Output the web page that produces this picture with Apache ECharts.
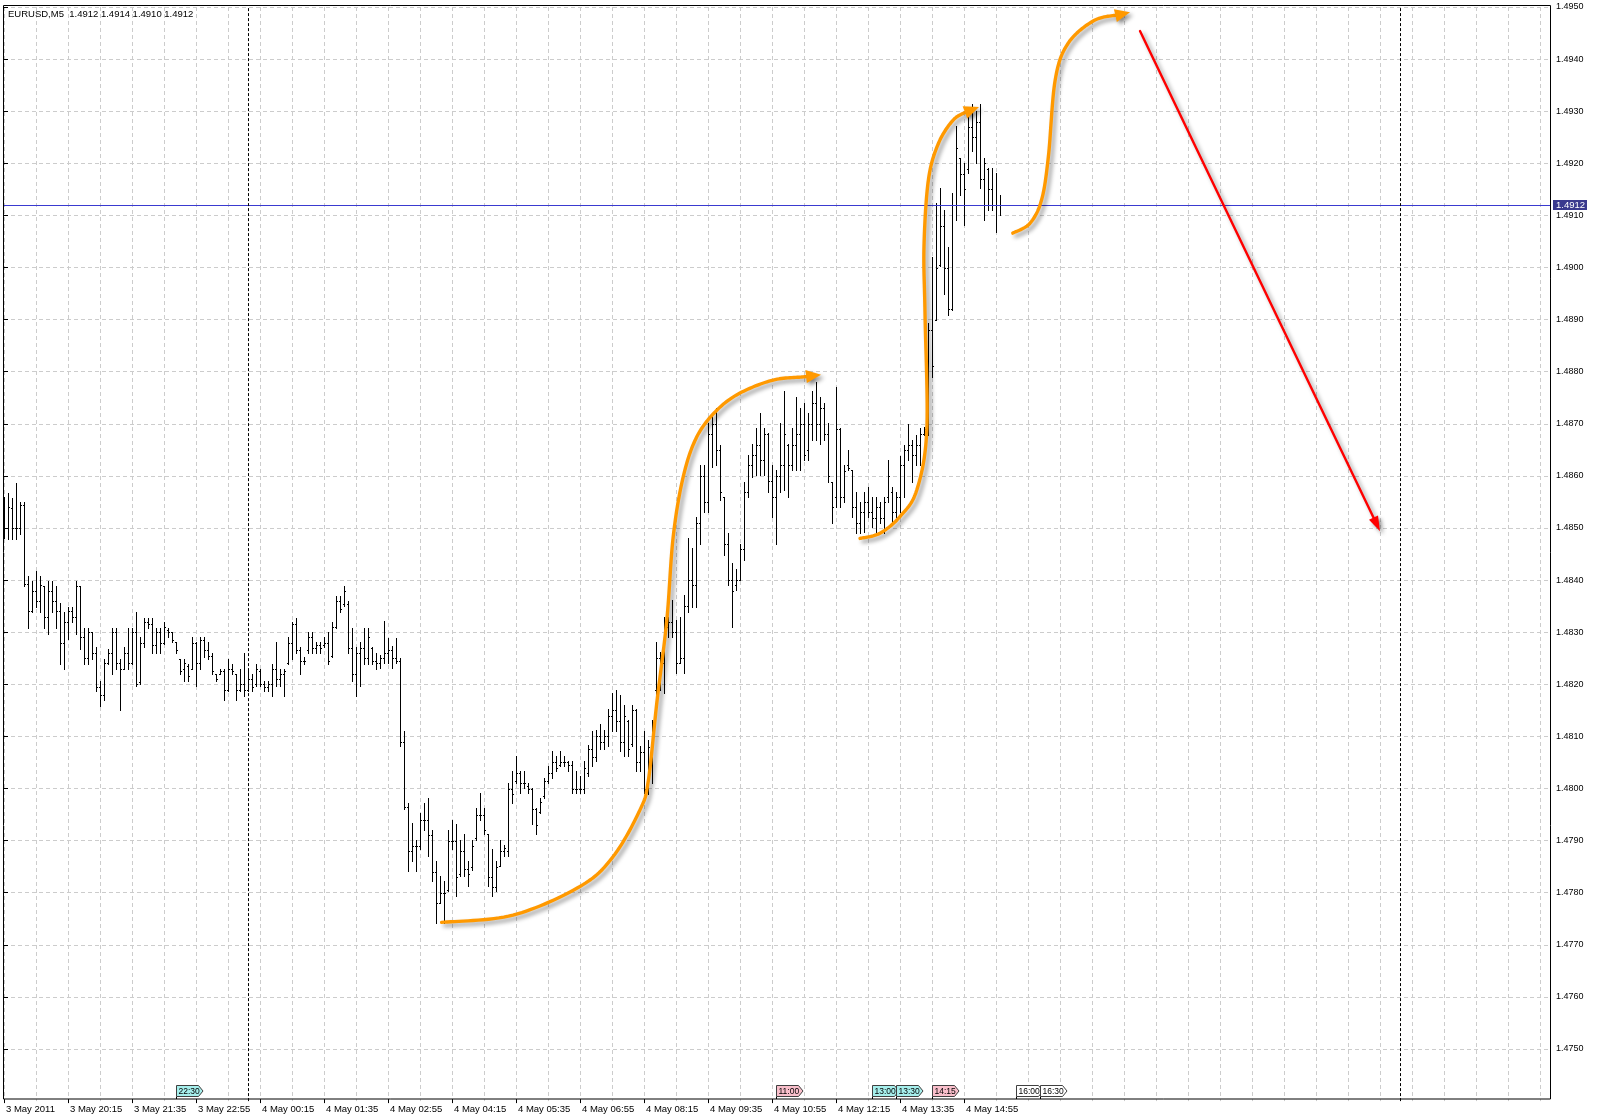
<!DOCTYPE html>
<html><head><meta charset="utf-8">
<script src="https://cdn.jsdelivr.net/npm/echarts@6/dist/echarts.min.js"></script>
<style>html,body{margin:0;padding:0;background:#fff}#c{width:1600px;height:1120px}</style>
</head><body><div id="c"></div>
<script>
// ---------- data ----------
const titleText = 'EURUSD,M5  1.4912 1.4914 1.4910 1.4912';
const lastPrice = 1.4912;
const slotCount = 387;               // bars + empty future slots
const timeLabels = ['3 May 2011','3 May 20:15','3 May 21:35','3 May 22:55','4 May 00:15','4 May 01:35','4 May 02:55','4 May 04:15','4 May 05:35','4 May 06:55','4 May 08:15','4 May 09:35','4 May 10:55','4 May 12:15','4 May 13:35','4 May 14:55'];
const daySeparators = [61, 349];     // 4 May 00:00, 5 May 00:00
const flagIdx = [43, 193, 217, 223, 232, 253, 259];
const flagText = ['22:30','11:00','13:00','13:30','14:15','16:00','16:30'];
const flagKind = ['low','high','low','low','high','none','none'];

const opens = [
1.48540,1.48500,1.48539,1.48500,1.48500,1.48545,1.48392,1.48340,1.48380,1.48360,
1.48389,1.48330,1.48380,1.48360,1.48340,1.48280,1.48320,1.48340,1.48330,1.48389,
1.48290,1.48250,1.48300,1.48260,1.48195,1.48180,1.48240,1.48260,1.48300,1.48240,
1.48229,1.48260,1.48240,1.48300,1.48205,1.48280,1.48320,1.48315,1.48275,1.48300,
1.48280,1.48305,1.48300,1.48281,1.48249,1.48230,1.48235,1.48230,1.48280,1.48240,
1.48285,1.48265,1.48255,1.48220,1.48220,1.48225,1.48190,1.48230,1.48220,1.48190,
1.48200,1.48190,1.48210,1.48200,1.48225,1.48200,1.48195,1.48200,1.48230,1.48210,
1.48220,1.48240,1.48280,1.48315,1.48265,1.48245,1.48265,1.48290,1.48270,1.48275,
1.48275,1.48280,1.48255,1.48310,1.48360,1.48355,1.48355,1.48270,1.48220,1.48260,
1.48270,1.48250,1.48270,1.48245,1.48240,1.48251,1.48260,1.48265,1.48250,1.48245,
1.48090,1.47965,1.47880,1.47890,1.47890,1.47940,1.47940,1.47910,1.47840,1.47780,
1.47800,1.47805,1.47900,1.47900,1.47835,1.47880,1.47845,1.47850,1.47905,1.47950,
1.47950,1.47912,1.47830,1.47810,1.47851,1.47880,1.47880,1.48000,1.48015,1.48030,
1.48010,1.48005,1.48000,1.47960,1.47955,1.47985,1.48015,1.48030,1.48050,1.48045,
1.48050,1.48050,1.48045,1.48000,1.48000,1.48000,1.48030,1.48075,1.48060,1.48100,
1.48090,1.48100,1.48140,1.48150,1.48130,1.48090,1.48130,1.48085,1.48150,1.48050,
1.48070,1.48000,1.48080,1.48190,1.48250,1.48240,1.48310,1.48320,1.48300,1.48240,
1.48250,1.48350,1.48400,1.48390,1.48510,1.48600,1.48550,1.48680,1.48700,1.48650,
1.48560,1.48470,1.48400,1.48390,1.48400,1.48460,1.48570,1.48620,1.48640,1.48660,
1.48630,1.48680,1.48590,1.48560,1.48600,1.48620,1.48660,1.48620,1.48660,1.48680,
1.48700,1.48650,1.48700,1.48740,1.48700,1.48730,1.48680,1.48589,1.48560,1.48690,
1.48560,1.48620,1.48611,1.48540,1.48510,1.48530,1.48550,1.48530,1.48520,1.48540,
1.48520,1.48560,1.48570,1.48530,1.48560,1.48620,1.48650,1.48660,1.48640,1.48660,
1.48680,1.48690,1.48880,1.48900,1.49005,1.49080,1.49000,1.48920,1.49120,1.49210,
1.49180,1.49190,1.49270,1.49250,1.49280,1.49170,1.49190,1.49150,1.49120,1.49120];

const highs = [
1.48560,1.48568,1.48558,1.48587,1.48549,1.48549,1.48408,1.48399,1.48418,1.48408,
1.48389,1.48399,1.48399,1.48389,1.48357,1.48338,1.48348,1.48348,1.48399,1.48389,
1.48309,1.48309,1.48300,1.48271,1.48207,1.48249,1.48268,1.48309,1.48309,1.48249,
1.48271,1.48309,1.48309,1.48338,1.48290,1.48328,1.48328,1.48328,1.48309,1.48309,
1.48319,1.48309,1.48300,1.48281,1.48249,1.48249,1.48239,1.48290,1.48281,1.48290,
1.48290,1.48281,1.48261,1.48220,1.48229,1.48229,1.48249,1.48239,1.48220,1.48229,
1.48261,1.48229,1.48220,1.48239,1.48229,1.48207,1.48207,1.48239,1.48281,1.48229,
1.48229,1.48290,1.48319,1.48328,1.48271,1.48252,1.48300,1.48300,1.48281,1.48281,
1.48290,1.48300,1.48319,1.48370,1.48370,1.48389,1.48360,1.48309,1.48271,1.48281,
1.48309,1.48309,1.48271,1.48261,1.48257,1.48321,1.48289,1.48273,1.48289,1.48251,
1.48110,1.47972,1.47934,1.47902,1.47953,1.47972,1.47982,1.47921,1.47860,1.47832,
1.47822,1.47921,1.47940,1.47931,1.47902,1.47912,1.47860,1.47902,1.47963,1.47992,
1.47963,1.47912,1.47883,1.47860,1.47902,1.47892,1.48011,1.48033,1.48062,1.48033,
1.48033,1.48011,1.48001,1.47963,1.47982,1.48020,1.48043,1.48072,1.48062,1.48072,
1.48062,1.48052,1.48052,1.48033,1.48024,1.48052,1.48084,1.48110,1.48113,1.48123,
1.48113,1.48152,1.48184,1.48190,1.48180,1.48161,1.48132,1.48161,1.48152,1.48081,
1.48110,1.48093,1.48131,1.48282,1.48262,1.48330,1.48330,1.48362,1.48323,1.48330,
1.48371,1.48480,1.48461,1.48522,1.48621,1.48621,1.48701,1.48720,1.48730,1.48659,
1.48560,1.48490,1.48432,1.48422,1.48470,1.48589,1.48640,1.48662,1.48691,1.48720,
1.48691,1.48682,1.48621,1.48611,1.48701,1.48762,1.48662,1.48691,1.48752,1.48730,
1.48739,1.48720,1.48762,1.48781,1.48752,1.48739,1.48701,1.48589,1.48771,1.48691,
1.48621,1.48650,1.48611,1.48570,1.48550,1.48570,1.48579,1.48560,1.48560,1.48550,
1.48560,1.48630,1.48579,1.48570,1.48639,1.48659,1.48700,1.48668,1.48678,1.48691,
1.48694,1.48893,1.49021,1.49124,1.49152,1.49111,1.49040,1.49143,1.49271,1.49210,
1.49201,1.49300,1.49313,1.49300,1.49313,1.49210,1.49191,1.49191,1.49181,1.49140];

const lows = [
1.48480,1.48479,1.48479,1.48479,1.48488,1.48389,1.48309,1.48338,1.48348,1.48338,
1.48309,1.48296,1.48338,1.48309,1.48239,1.48229,1.48287,1.48319,1.48296,1.48268,
1.48239,1.48239,1.48249,1.48188,1.48159,1.48169,1.48239,1.48220,1.48229,1.48150,
1.48229,1.48229,1.48239,1.48197,1.48201,1.48271,1.48309,1.48261,1.48261,1.48261,
1.48277,1.48290,1.48281,1.48261,1.48220,1.48207,1.48207,1.48229,1.48197,1.48229,
1.48252,1.48249,1.48220,1.48207,1.48220,1.48169,1.48188,1.48220,1.48169,1.48188,
1.48178,1.48188,1.48188,1.48197,1.48197,1.48188,1.48188,1.48178,1.48197,1.48197,
1.48178,1.48239,1.48249,1.48261,1.48220,1.48239,1.48261,1.48261,1.48261,1.48261,
1.48271,1.48239,1.48252,1.48309,1.48338,1.48351,1.48261,1.48207,1.48178,1.48197,
1.48239,1.48239,1.48239,1.48229,1.48232,1.48241,1.48241,1.48232,1.48241,1.48081,
1.47960,1.47841,1.47860,1.47841,1.47883,1.47921,1.47870,1.47822,1.47742,1.47780,
1.47742,1.47803,1.47883,1.47793,1.47832,1.47832,1.47812,1.47844,1.47902,1.47940,
1.47912,1.47812,1.47793,1.47803,1.47851,1.47870,1.47870,1.47972,1.48011,1.47992,
1.48001,1.47992,1.47931,1.47912,1.47953,1.47982,1.48011,1.48020,1.48033,1.48043,
1.48043,1.48033,1.47992,1.47992,1.47992,1.47992,1.48024,1.48043,1.48052,1.48075,
1.48075,1.48081,1.48110,1.48110,1.48072,1.48062,1.48062,1.48081,1.48033,1.48033,
1.47992,1.47990,1.48010,1.48179,1.48189,1.48183,1.48291,1.48291,1.48221,1.48240,
1.48221,1.48339,1.48349,1.48349,1.48470,1.48531,1.48531,1.48618,1.48621,1.48554,
1.48448,1.48390,1.48310,1.48381,1.48400,1.48438,1.48560,1.48598,1.48602,1.48602,
1.48602,1.48570,1.48522,1.48470,1.48570,1.48573,1.48560,1.48611,1.48611,1.48611,
1.48630,1.48630,1.48669,1.48669,1.48662,1.48669,1.48589,1.48509,1.48541,1.48541,
1.48550,1.48611,1.48522,1.48490,1.48490,1.48493,1.48522,1.48502,1.48493,1.48509,
1.48490,1.48550,1.48509,1.48522,1.48530,1.48559,1.48630,1.48588,1.48620,1.48620,
1.48678,1.48678,1.48790,1.48899,1.49002,1.48950,1.48909,1.48918,1.49092,1.49140,
1.49082,1.49181,1.49223,1.49201,1.49152,1.49092,1.49111,1.49111,1.49069,1.49100];

const closes = [
1.48500,1.48540,1.48500,1.48500,1.48545,1.48392,1.48340,1.48380,1.48360,1.48390,
1.48330,1.48380,1.48360,1.48340,1.48280,1.48320,1.48340,1.48330,1.48389,1.48290,
1.48250,1.48300,1.48260,1.48195,1.48180,1.48240,1.48260,1.48300,1.48240,1.48229,
1.48260,1.48240,1.48300,1.48200,1.48280,1.48320,1.48315,1.48275,1.48300,1.48280,
1.48310,1.48300,1.48285,1.48265,1.48225,1.48240,1.48215,1.48280,1.48240,1.48285,
1.48265,1.48255,1.48225,1.48210,1.48225,1.48190,1.48230,1.48225,1.48190,1.48200,
1.48190,1.48210,1.48195,1.48230,1.48200,1.48195,1.48200,1.48230,1.48210,1.48220,
1.48225,1.48280,1.48315,1.48265,1.48245,1.48245,1.48290,1.48270,1.48275,1.48270,
1.48280,1.48245,1.48310,1.48360,1.48345,1.48380,1.48270,1.48220,1.48260,1.48270,
1.48250,1.48290,1.48245,1.48240,1.48251,1.48260,1.48265,1.48250,1.48245,1.48090,
1.47965,1.47880,1.47890,1.47890,1.47940,1.47940,1.47910,1.47840,1.47780,1.47800,
1.47800,1.47900,1.47900,1.47830,1.47880,1.47845,1.47835,1.47890,1.47950,1.47950,
1.47920,1.47830,1.47810,1.47850,1.47880,1.47885,1.48000,1.47990,1.48030,1.48010,
1.48010,1.48000,1.47960,1.47930,1.47975,1.48015,1.48030,1.48050,1.48040,1.48050,
1.48050,1.48045,1.48000,1.48000,1.48000,1.48040,1.48075,1.48060,1.48100,1.48090,
1.48100,1.48140,1.48150,1.48130,1.48090,1.48140,1.48075,1.48150,1.48050,1.48070,
1.48000,1.48080,1.48110,1.48250,1.48240,1.48310,1.48320,1.48300,1.48240,1.48250,
1.48350,1.48400,1.48390,1.48510,1.48600,1.48550,1.48680,1.48700,1.48650,1.48570,
1.48470,1.48400,1.48380,1.48400,1.48460,1.48570,1.48620,1.48640,1.48660,1.48630,
1.48680,1.48590,1.48560,1.48600,1.48620,1.48680,1.48620,1.48660,1.48680,1.48700,
1.48640,1.48700,1.48740,1.48700,1.48730,1.48680,1.48600,1.48540,1.48690,1.48560,
1.48610,1.48615,1.48540,1.48510,1.48530,1.48550,1.48530,1.48520,1.48540,1.48520,
1.48550,1.48600,1.48530,1.48560,1.48620,1.48650,1.48660,1.48640,1.48660,1.48680,
1.48690,1.48880,1.48810,1.49000,1.49080,1.49000,1.48920,1.49120,1.49230,1.49180,
1.49150,1.49270,1.49250,1.49280,1.49170,1.49200,1.49150,1.49120,1.49120,1.49120];

// hand-drawn annotations, as [bar index, price] points (last point = arrow tip)
const curveA = [[109.4,1.47743],[127.25,1.47757],[144,1.47812],[152.25,1.47869],[159,1.47959],[161.1,1.48016],[163.2,1.48164],[165.7,1.48323],[167.3,1.48483],[169.8,1.48598],[173.2,1.48675],[178.2,1.48726],[184,1.48759],[192.3,1.48784],[199.8,1.48790],[204.25,1.48794]];
const curveB = [[214,1.48480],[219,1.48490],[224,1.48522],[228.2,1.48573],[230.7,1.48688],[230.25,1.48913],[230,1.49040],[231.1,1.49168],[233.6,1.49238],[237.3,1.49283],[240.7,1.49299],[243.75,1.49308]];
const curveC = [[252.2,1.49066],[256.5,1.49085],[259.4,1.49130],[261.1,1.49213],[262.8,1.49360],[266,1.49430],[272.5,1.49474],[281.5,1.49490]];
const arrowD = [[284,1.49454],[344,1.48494]];

// ---------- styles ----------
const FONT = '"Liberation Sans", Arial, sans-serif';
const GRID_COLOR = '#cccccc';
const LAST_LINE = '#3a3ad0';
const annStyles = [
  {pts: curveA, color:'#FF9900', width:3.4, headLen:15, headW:13},
  {pts: curveB, color:'#FF9900', width:3.4, headLen:15, headW:13},
  {pts: curveC, color:'#FF9900', width:3.4, headLen:15, headW:13},
  {pts: arrowD, color:'#FF0000', width:2.4, headLen:15, headW:10}
];
const flagFill = {low:'#A6EFEC', high:'#F9BFCB', none:'#FFFFFF'};

const barTimes = [];
{
  const t0 = Date.UTC(2011,4,3,18,55);
  for (let i = 0; i < slotCount; i++) {
    const d = new Date(t0 + i*300000);
    barTimes.push(d.getUTCDate()+' May '+String(d.getUTCHours()).padStart(2,'0')+':'+String(d.getUTCMinutes()).padStart(2,'0'));
  }
}

function spline(p) {
  if (p.length < 3) return p.slice();
  const out = [];
  for (let i = 0; i < p.length-1; i++) {
    const p0 = p[i-1] || p[i], p1 = p[i], p2 = p[i+1], p3 = p[i+2] || p[i+1];
    for (let s = 0; s < 16; s++) {
      const t = s/16, t2 = t*t, t3 = t2*t;
      const f = k => 0.5*((2*p1[k]) + (-p0[k]+p2[k])*t + (2*p0[k]-5*p1[k]+4*p2[k]-p3[k])*t2 + (-p0[k]+3*p1[k]-3*p2[k]+p3[k])*t3);
      out.push([f(0), f(1)]);
    }
  }
  out.push(p[p.length-1]);
  return out;
}

const chart = echarts.init(document.getElementById('c'), null, {renderer:'canvas'});
const gridTop = 7, pxPerPip = 5.21;
const yMin = 1.4740, yMax = 1.4950;

const shadow = {shadowBlur:4, shadowColor:'rgba(0,0,0,0.4)', shadowOffsetX:3, shadowOffsetY:3};

chart.setOption({
  animation:false,
  backgroundColor:'#ffffff',
  grid:{left:4, top:gridTop, width:4*(slotCount-1), height:(yMax-yMin)*10000*pxPerPip, containLabel:false},
  xAxis:[
    {type:'category', data:barTimes, boundaryGap:false, position:'bottom', offset:-2,
     axisLine:{show:false},
     axisTick:{show:true, length:4, interval:(i)=> i%16===0 && i/16 < timeLabels.length, lineStyle:{color:'#000'}},
     axisLabel:{interval:(i)=> i%16===0 && i/16 < timeLabels.length, formatter:(v,i)=> timeLabels[i/16] || '', align:'left', margin:5, padding:[0,0,0,2], fontSize:9.5, fontFamily:FONT, color:'#000'},
     splitLine:{show:true, interval:(i)=> i%8===0, lineStyle:{color:GRID_COLOR, type:[4,3], width:1}}},
    {type:'value', min:0, max:slotCount-1, show:false}
  ],
  yAxis:[{type:'value', position:'right', offset:2, min:yMin, max:yMax, interval:0.001, scale:true,
     axisLine:{show:false},
     axisTick:{show:true, length:4, lineStyle:{color:'#000'}},
     axisLabel:{formatter:v=>v.toFixed(4), fontSize:9, fontFamily:FONT, color:'#000', margin:6, showMinLabel:false},
     splitLine:{show:true, showMinLine:false, lineStyle:{color:GRID_COLOR, type:[4,3], width:1}}}],
  series:[
    {type:'custom', name:'EURUSD', xAxisIndex:1, yAxisIndex:0, clip:false,
     data: highs.map((h,i)=>[i, opens[i], h, lows[i], closes[i]]),
     encode:{x:0, y:[1,2,3,4]},
     renderItem:(params, api)=>{
       const i = api.value(0);
       const pH = api.coord([i, api.value(2)]), pL = api.coord([i, api.value(3)]);
       const pO = api.coord([i, api.value(1)]), pC = api.coord([i, api.value(4)]);
       const x = Math.round(pH[0]);
       const yT = Math.round(pH[1]), yB = Math.round(pL[1]);
       return {type:'group', children:[
         {type:'rect', shape:{x:x, y:yT, width:1, height:Math.max(1, yB-yT+1)}, style:{fill:'#000'}},
         {type:'rect', shape:{x:x-1, y:Math.round(pO[1]), width:1, height:1}, style:{fill:'#000'}},
         {type:'rect', shape:{x:x+1, y:Math.round(pC[1]), width:1, height:1}, style:{fill:'#000'}}
       ]};
     },
     markLine:{silent:true, symbol:'none', animation:false, precision:6,
       lineStyle:{color:'#000', type:[3,2], width:1}, label:{show:false},
       data: daySeparators.map(d=>({xAxis:d}))}
    },
    {type:'custom', name:'last', xAxisIndex:1, yAxisIndex:0, clip:false, z:3,
     data:[[0, lastPrice]], encode:{x:0, y:1},
     renderItem:(params, api)=>{
       const cs = params.coordSys;
       const y = Math.round(api.coord([0, api.value(1)])[1]);
       return {type:'group', children:[
         {type:'rect', shape:{x:cs.x - 1, y:y, width:cs.width + 3, height:1}, style:{fill:LAST_LINE}},
         {type:'rect', shape:{x:cs.x + cs.width + 5, y:y - 5, width:34, height:10}, style:{fill:'#3a3a8e'}},
         {type:'text', x:cs.x + cs.width + 8, y:y + 0.5, style:{text:api.value(1).toFixed(4), fill:'#fff', fontSize:9.5, fontFamily:FONT, verticalAlign:'middle', align:'left'}}
       ]};
     }
    },
    {type:'custom', name:'events', xAxisIndex:1, yAxisIndex:0, clip:false, z:5,
     data: flagIdx.map((v,k)=>[v,k]),
     encode:{x:0},
     renderItem:(params, api)=>{
       const k = api.value(1);
       const p = api.coord([api.value(0), yMin]);
       const x = Math.round(p[0]) + 0.5;
       const yb = 1096.5, yt = 1085.5, ym = (yt+yb)/2;
       return {type:'group', children:[
         {type:'line', shape:{x1:x, y1:yb, x2:x, y2:1099}, style:{stroke:'#000', lineWidth:1}},
         {type:'polygon', shape:{points:[[x,yt],[x+22,yt],[x+26.5,ym],[x+22,yb],[x,yb]]}, style:{fill:flagFill[flagKind[k]], stroke:'#404040', lineWidth:1}},
         {type:'text', x:x+2, y:ym+0.5, style:{text:flagText[k], fill:'#000', fontSize:8.5, fontFamily:FONT, verticalAlign:'middle', align:'left'}}
       ]};
     }
    },
    {type:'custom', name:'annotations', xAxisIndex:1, yAxisIndex:0, clip:false, z:10,
     data: annStyles.map((a,k)=>[a.pts[0][0], a.pts[0][1], k]),
     encode:{x:0, y:1},
     renderItem:(params, api)=>{
       const a = annStyles[api.value(2)];
       const px = a.pts.map(p=>api.coord(p));
       const n = px.length, tip = px[n-1], prev = px[n-2];
       const dx = tip[0]-prev[0], dy = tip[1]-prev[1], L = Math.hypot(dx,dy);
       const ux = dx/L, uy = dy/L;
       const base = [tip[0]-ux*a.headLen, tip[1]-uy*a.headLen];
       const hw = a.headW/2;
       const linePts = px.slice(0,n-1).concat([[tip[0]-ux*a.headLen*0.8, tip[1]-uy*a.headLen*0.8]]);
       return {type:'group', children:[
         {type:'polyline', shape:{points:spline(linePts)}, style:Object.assign({stroke:a.color, lineWidth:a.width, fill:null, lineCap:'round', lineJoin:'round'}, shadow)},
         {type:'polygon', shape:{points:[tip,[base[0]-uy*hw, base[1]+ux*hw],[base[0]+uy*hw, base[1]-ux*hw]]}, style:Object.assign({fill:a.color}, shadow)}
       ]};
     }
    }
  ],
  graphic:[
    {type:'rect', silent:true, z:100, shape:{x:3.5, y:5.5, width:1547, height:1093.5}, style:{fill:null, stroke:'#000', lineWidth:1}},
    {type:'text', silent:true, z:100, x:8, y:14, style:{text:titleText, fill:'#000', fontSize:9.5, fontFamily:FONT, verticalAlign:'middle'}}
  ]
});
</script>
</body></html>
